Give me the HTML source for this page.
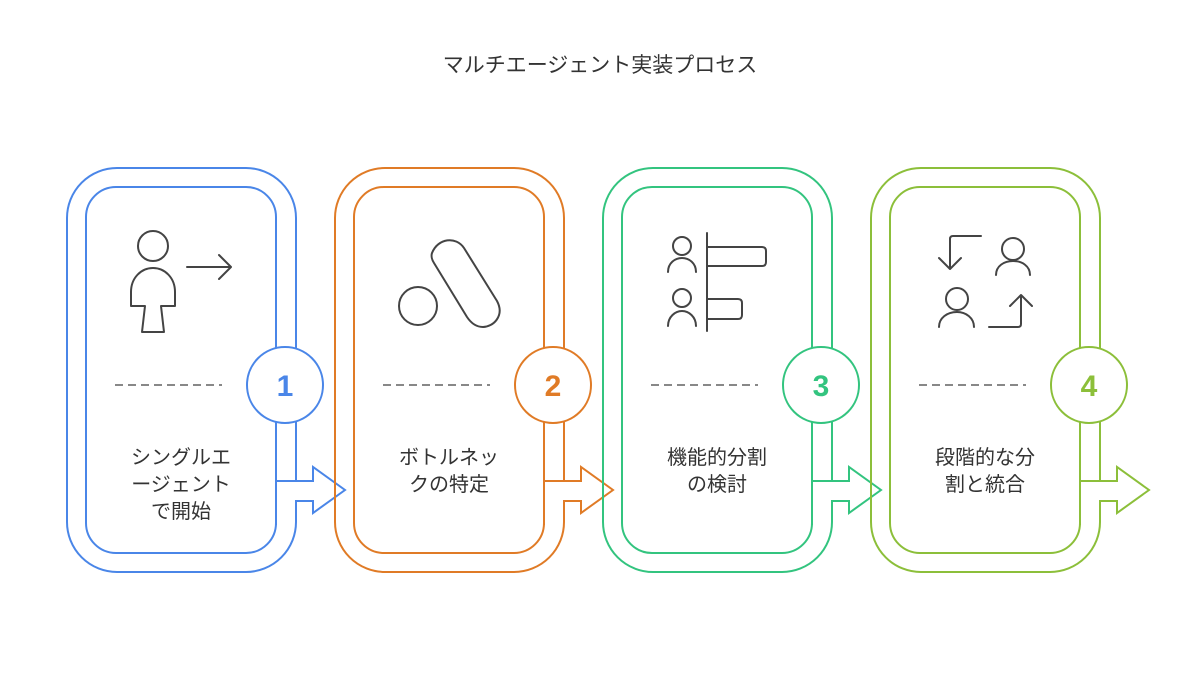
<!DOCTYPE html>
<html><head><meta charset="utf-8"><style>
html,body{margin:0;padding:0;background:#fff;}
svg{display:block;}
text{font-family:"Liberation Sans","Noto Sans CJK JP",sans-serif;}
</style></head><body>
<svg width="1200" height="682" viewBox="0 0 1200 682" xmlns="http://www.w3.org/2000/svg">
<rect width="1200" height="682" fill="#fff"/>
<text x="600" y="72" text-anchor="middle" font-size="21" fill="#333">マルチエージェント実装プロセス</text>

<defs>
<g id="card">
  <rect x="67" y="168" width="229" height="404" rx="50" fill="none" stroke="currentColor" stroke-width="2"/>
  <rect x="86" y="187" width="190" height="366" rx="30" fill="none" stroke="currentColor" stroke-width="2"/>
  <polygon points="277,482 313,482 313,500 277,500" fill="#fff"/>
  <polyline points="276,481 313,481 313,467 345,490 313,513 313,501 296,501 296,510" fill="none" stroke="currentColor" stroke-width="2" stroke-linejoin="miter"/>
  <line x1="276" y1="500" x2="276" y2="525" stroke="currentColor" stroke-width="2"/>
  <circle cx="285" cy="385" r="38" fill="#fff" stroke="currentColor" stroke-width="2"/>
  <line x1="115" y1="385" x2="222" y2="385" stroke="#888" stroke-width="2" stroke-dasharray="8,5"/>
</g>
</defs>

<use href="#card" style="color:#4a86e8"/>
<use href="#card" transform="translate(268,0)" style="color:#e07b26"/>
<use href="#card" transform="translate(536,0)" style="color:#33c47f"/>
<use href="#card" transform="translate(804,0)" style="color:#8cbf3a"/>

<g font-size="30" font-weight="bold" text-anchor="middle">
<text x="285" y="396" fill="#4a86e8">1</text>
<text x="553" y="396" fill="#e07b26">2</text>
<text x="821" y="396" fill="#33c47f">3</text>
<text x="1089" y="396" fill="#8cbf3a">4</text>
</g>

<g font-size="20" fill="#333" text-anchor="middle">
<text x="181" y="464">シングルエ</text>
<text x="181" y="491">ージェント</text>
<text x="181" y="518">で開始</text>
<text x="449" y="464">ボトルネッ</text>
<text x="449" y="491">クの特定</text>
<text x="717" y="464">機能的分割</text>
<text x="717" y="491">の検討</text>
<text x="985" y="464">段階的な分</text>
<text x="985" y="491">割と統合</text>
</g>

<g fill="none" stroke="#444" stroke-width="2" stroke-linecap="round" stroke-linejoin="round">
  <circle cx="153" cy="246" r="15"/>
  <path d="M142,332 L145,306 L131,306 L131,292 C131,278 141,268 153,268 C165,268 175,278 175,292 L175,306 L161,306 L164,332 Z"/>
  <path d="M187,267 L231,267 M219,255 L231,267 L219,279"/>
  <circle cx="418" cy="306" r="19"/>
  <path d="M432,253 C438,238 456,236 464,248 L497,301 C505,316 493,327 483,327 C476,327 471,323 467,317 L434,263 C432,260 431,256 432,253 Z"/>
  <circle cx="682" cy="246" r="9"/>
  <path d="M668,272 C668,263 675,258 682,258 C689,258 696,263 696,272"/>
  <circle cx="682" cy="298" r="9"/>
  <path d="M668,326 C668,317 675,311 682,311 C689,311 696,317 696,326"/>
  <line x1="707" y1="233" x2="707" y2="331"/>
  <path d="M708,247 L762,247 Q766,247 766,251 L766,262 Q766,266 762,266 L708,266"/>
  <path d="M708,299 L738,299 Q742,299 742,303 L742,315 Q742,319 738,319 L708,319"/>
  <path d="M981,236 L953,236 Q950,236 950,239 L950,269 M939,258 L950,269 L961,258"/>
  <circle cx="1013" cy="249" r="11"/>
  <path d="M996,275 C996,266 1004,261 1013,261 C1022,261 1030,266 1030,275"/>
  <circle cx="957" cy="299" r="11"/>
  <path d="M939,327 C939,318 947,312 957,312 C966,312 974,318 974,327"/>
  <path d="M989,327 L1018,327 Q1021,327 1021,324 L1021,295 M1010,306 L1021,295 L1032,306"/>
</g>
</svg>
</body></html>
